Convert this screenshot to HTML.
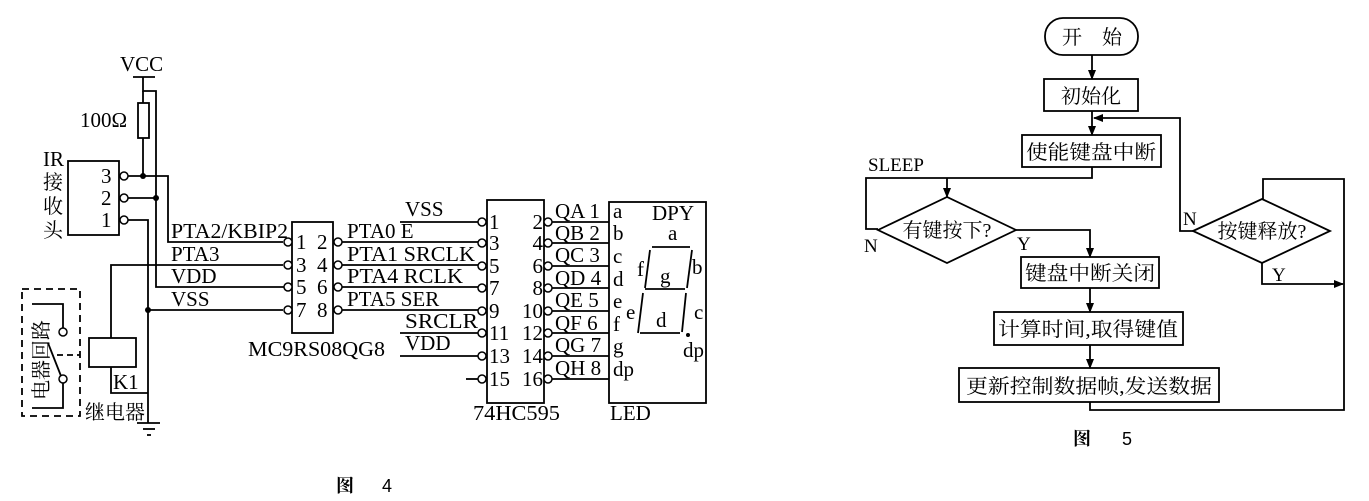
<!DOCTYPE html>
<html><head><meta charset="utf-8"><style>
html,body{margin:0;padding:0;background:#fff;}
svg{display:block;}
text{font-family:"Liberation Serif","Noto Serif CJK SC",serif;fill:#000;}
.cn{font-family:"Liberation Serif","Noto Sans CJK SC",sans-serif;}
</style></head><body>
<svg width="1369" height="501" viewBox="0 0 1369 501" xmlns="http://www.w3.org/2000/svg">
<defs>
<marker id="ar" markerWidth="10" markerHeight="10" refX="9" refY="5" orient="auto" markerUnits="userSpaceOnUse">
<path d="M0,1 L10,5 L0,9 Z" fill="#000"/></marker>
</defs>
<g stroke="#000" stroke-width="1.8" fill="none">
<line x1="133" y1="77" x2="155" y2="77"/>
<polyline points="143,77 143,91 156,91 156,287 287,287"/>
<rect x="138" y="103" width="11" height="35"/>
<line x1="143" y1="91" x2="143" y2="103"/>
<line x1="143" y1="138" x2="143" y2="176"/>
<rect x="68" y="161" width="51" height="74"/>
<polyline points="128,176 168,176 168,242 283,242"/>
<line x1="128" y1="198" x2="156" y2="198"/>
<polyline points="128,220 148,220 148,423"/>
<line x1="148" y1="310" x2="283" y2="310"/>
<polyline points="283,265 111,265 111,338"/>
<rect x="89" y="338" width="47" height="29"/>
<polyline points="111,367 111,393 148,393"/>
<line x1="137" y1="423" x2="160" y2="423"/>
<line x1="143" y1="429" x2="155" y2="429"/>
<line x1="147" y1="435" x2="151" y2="435"/>
<rect x="22" y="289" width="58" height="127" stroke-dasharray="7,5"/>
<line x1="57" y1="355" x2="80" y2="355" stroke-dasharray="6,4"/>
<polyline points="32,304 63,304 63,328"/>
<polyline points="63,383 63,408 32,408"/>
<line x1="48" y1="343" x2="61" y2="376"/>
<rect x="292" y="222" width="41" height="111"/>
<line x1="342" y1="242" x2="478" y2="242"/>
<line x1="342" y1="265" x2="478" y2="265"/>
<line x1="342" y1="287" x2="478" y2="287"/>
<line x1="342" y1="310" x2="478" y2="310"/>
<line x1="400" y1="222" x2="478" y2="222"/>
<line x1="400" y1="333" x2="478" y2="333"/>
<line x1="400" y1="356" x2="478" y2="356"/>
<line x1="466" y1="379" x2="478" y2="379"/>
<rect x="487" y="200" width="57" height="203"/>
<line x1="552" y1="222" x2="609" y2="222"/>
<line x1="552" y1="243" x2="609" y2="243"/>
<line x1="552" y1="266" x2="609" y2="266"/>
<line x1="552" y1="288" x2="609" y2="288"/>
<line x1="552" y1="311" x2="609" y2="311"/>
<line x1="552" y1="333" x2="609" y2="333"/>
<line x1="552" y1="356" x2="609" y2="356"/>
<line x1="552" y1="379" x2="609" y2="379"/>
<rect x="609" y="202" width="97" height="201"/>
<line x1="652" y1="247" x2="690" y2="247"/>
<line x1="650" y1="250" x2="645" y2="288"/>
<line x1="645" y1="289" x2="685" y2="289"/>
<line x1="692" y1="250" x2="687" y2="288"/>
<line x1="643" y1="293" x2="638" y2="333"/>
<line x1="640" y1="333" x2="680" y2="333"/>
<line x1="686" y1="293" x2="682" y2="332"/>
</g>
<g fill="#fff" stroke="#000" stroke-width="1.5">
<circle cx="124" cy="176" r="4"/><circle cx="124" cy="198" r="4"/><circle cx="124" cy="220" r="4"/>
<circle cx="63" cy="332" r="4"/><circle cx="63" cy="379" r="4"/>
<circle cx="288" cy="242" r="4"/><circle cx="288" cy="265" r="4"/><circle cx="288" cy="287" r="4"/><circle cx="288" cy="310" r="4"/>
<circle cx="338" cy="242" r="4"/><circle cx="338" cy="265" r="4"/><circle cx="338" cy="287" r="4"/><circle cx="338" cy="310" r="4"/>
<circle cx="482" cy="222" r="4"/><circle cx="482" cy="243" r="4"/><circle cx="482" cy="266" r="4"/><circle cx="482" cy="288" r="4"/>
<circle cx="482" cy="311" r="4"/><circle cx="482" cy="333" r="4"/><circle cx="482" cy="356" r="4"/><circle cx="482" cy="379" r="4"/>
<circle cx="548" cy="222" r="4"/><circle cx="548" cy="243" r="4"/><circle cx="548" cy="266" r="4"/><circle cx="548" cy="288" r="4"/>
<circle cx="548" cy="311" r="4"/><circle cx="548" cy="333" r="4"/><circle cx="548" cy="356" r="4"/><circle cx="548" cy="379" r="4"/>
</g>
<g fill="#000">
<circle cx="143" cy="176" r="3"/><circle cx="156" cy="198" r="3"/><circle cx="148" cy="310" r="3"/><circle cx="688" cy="335" r="2"/>
</g>
<g font-size="21">
<text x="120" y="71">VCC</text>
<text x="80" y="127">100Ω</text>
<text x="43" y="166">IR</text>
<text x="101" y="183">3</text><text x="101" y="205">2</text><text x="101" y="227">1</text>
<text x="171" y="238" textLength="117" lengthAdjust="spacingAndGlyphs">PTA2/KBIP2</text>
<text x="171" y="261">PTA3</text>
<text x="171" y="283">VDD</text>
<text x="171" y="306">VSS</text>
<text x="113" y="389">K1</text>
<text x="296" y="249">1</text><text x="317" y="249">2</text>
<text x="296" y="272">3</text><text x="317" y="272">4</text>
<text x="296" y="294">5</text><text x="317" y="294">6</text>
<text x="296" y="317">7</text><text x="317" y="317">8</text>
<text x="248" y="356" textLength="137" lengthAdjust="spacingAndGlyphs">MC9RS08QG8</text>
<text x="347" y="238">PTA0 E</text>
<text x="347" y="261" textLength="128" lengthAdjust="spacingAndGlyphs">PTA1 SRCLK</text>
<text x="347" y="283" textLength="116" lengthAdjust="spacingAndGlyphs">PTA4 RCLK</text>
<text x="347" y="306">PTA5 SER</text>
<text x="405" y="216">VSS</text>
<text x="405" y="328" textLength="73" lengthAdjust="spacingAndGlyphs">SRCLR</text>
<text x="405" y="350">VDD</text>
<text x="489" y="229">1</text><text x="489" y="250">3</text><text x="489" y="273">5</text><text x="489" y="295">7</text>
<text x="489" y="318">9</text><text x="489" y="340">11</text><text x="489" y="363">13</text><text x="489" y="386">15</text>
<g text-anchor="end">
<text x="543" y="229">2</text><text x="543" y="250">4</text><text x="543" y="273">6</text><text x="543" y="295">8</text>
<text x="543" y="318">10</text><text x="543" y="340">12</text><text x="543" y="363">14</text><text x="543" y="386">16</text>
</g>
<text x="555" y="218">QA 1</text><text x="555" y="240">QB 2</text><text x="555" y="262">QC 3</text><text x="555" y="285">QD 4</text>
<text x="555" y="307">QE 5</text><text x="555" y="330">QF 6</text><text x="555" y="352">QG 7</text><text x="555" y="375">QH 8</text>
<text x="613" y="218">a</text><text x="613" y="240">b</text><text x="613" y="263">c</text><text x="613" y="286">d</text>
<text x="613" y="308">e</text><text x="613" y="331">f</text><text x="613" y="353">g</text><text x="613" y="376">dp</text>
<text x="652" y="220">DPY</text>
<text x="668" y="240">a</text><text x="637" y="276">f</text><text x="692" y="274">b</text><text x="660" y="283">g</text>
<text x="626" y="319">e</text><text x="694" y="319">c</text><text x="656" y="327">d</text><text x="683" y="357">dp</text>
<text x="473" y="420" textLength="87" lengthAdjust="spacingAndGlyphs">74HC595</text>
<text x="610" y="420">LED</text>
</g>
<g class="cn" font-size="20">
<text x="43" y="189">接</text><text x="43" y="213">收</text><text x="43" y="237">头</text>
<text x="85" y="419">继电器</text>
<text transform="translate(48,400) rotate(-90)">电器回路</text>
</g>
<g class="cn" font-size="18" font-weight="bold">
<text x="336" y="492">图</text><text x="382" y="492" style="font-family:'Liberation Sans',sans-serif" font-weight="normal">4</text>
<text x="1073" y="445">图</text><text x="1122" y="445" style="font-family:'Liberation Sans',sans-serif" font-weight="normal">5</text>
</g>
<g stroke="#000" stroke-width="1.8" fill="none">
<rect x="1045" y="18" width="93" height="37" rx="18"/>
<rect x="1044" y="79" width="94" height="32"/>
<rect x="1022" y="135" width="139" height="32"/>
<rect x="1021" y="257" width="138" height="31"/>
<rect x="994" y="312" width="189" height="33"/>
<rect x="959" y="368" width="260" height="34"/>
<polygon points="878,230 947,197 1016,230 947,263"/>
<polygon points="1193,231 1262,199 1330,231 1262,263"/>
<line x1="1092" y1="55" x2="1092" y2="79" marker-end="url(#ar)"/>
<line x1="1092" y1="111" x2="1092" y2="135" marker-end="url(#ar)"/>
<polyline points="1092,167 1092,178 866,178 866,229 878,229"/>
<line x1="947" y1="178" x2="947" y2="197" marker-end="url(#ar)"/>
<polyline points="1016,230 1090,230 1090,257" marker-end="url(#ar)"/>
<line x1="1090" y1="288" x2="1090" y2="312" marker-end="url(#ar)"/>
<line x1="1090" y1="345" x2="1090" y2="368" marker-end="url(#ar)"/>
<polyline points="1090,402 1090,410 1344,410 1344,179 1263,179 1263,199"/>
<polyline points="1193,231 1180,231 1180,118 1094,118" marker-end="url(#ar)"/>
<polyline points="1262,263 1262,284 1343,284" marker-end="url(#ar)"/>
</g>
<g class="cn" font-size="20" text-anchor="middle">
<text x="1092" y="44">开　始</text>
<text x="1091" y="103">初始化</text>
<text x="1091" y="159" textLength="130" lengthAdjust="spacingAndGlyphs">使能键盘中断</text>
<text x="947" y="237">有键按下?</text>
<text x="1090" y="280" textLength="130" lengthAdjust="spacingAndGlyphs">键盘中断关闭</text>
<text x="1088" y="336" textLength="180" lengthAdjust="spacingAndGlyphs">计算时间,取得键值</text>
<text x="1089" y="393" textLength="246" lengthAdjust="spacingAndGlyphs">更新控制数据帧,发送数据</text>
<text x="1262" y="238">按键释放?</text>
</g>
<g font-size="19">
<text x="868" y="171">SLEEP</text>
<text x="864" y="252">N</text>
<text x="1017" y="250">Y</text>
<text x="1183" y="225">N</text>
<text x="1272" y="281">Y</text>
</g>
</svg>
</body></html>
